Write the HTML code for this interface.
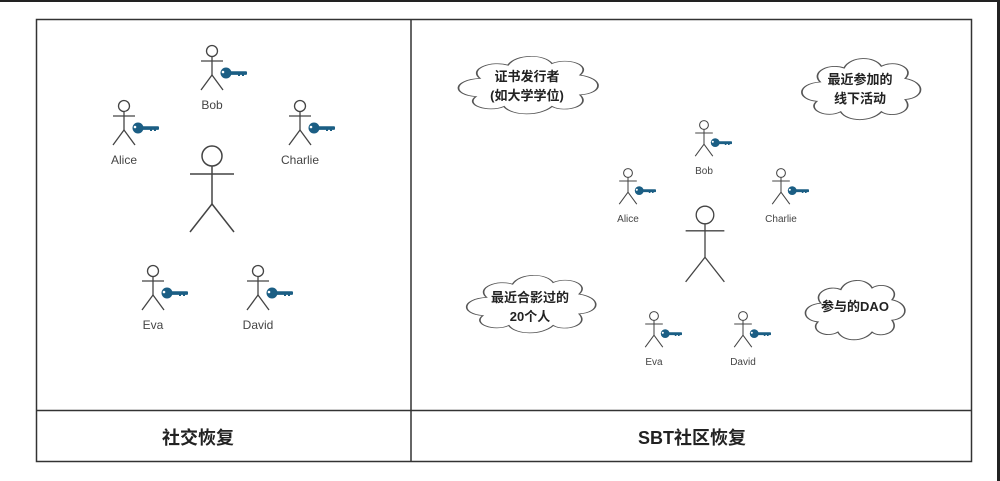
<!DOCTYPE html>
<html><head><meta charset="utf-8"><style>
html,body{margin:0;padding:0;background:#fff;}
svg{display:block;}
text{font-family:"Liberation Sans","Noto Sans CJK SC",sans-serif;}
</style></head><body>
<svg width="1000" height="481" viewBox="0 0 1000 481" xmlns="http://www.w3.org/2000/svg">
<defs>
<g id="fig">
  <g stroke="#444" stroke-width="1.3" fill="none">
    <circle cx="0" cy="0" r="5.5" fill="#fff"/>
    <line x1="0" y1="5.5" x2="0" y2="24"/>
    <line x1="-11" y1="10" x2="11" y2="10"/>
    <line x1="0" y1="24" x2="-11" y2="39"/>
    <line x1="0" y1="24" x2="11" y2="39"/>
  </g>
  <g fill="#1b5e84">
    <circle cx="14" cy="22" r="5.5"/>
    <rect x="15" y="20.3" width="20" height="3.6" rx="1"/>
    <rect x="26" y="23" width="2" height="2"/>
    <rect x="30" y="23" width="2" height="2"/>
  </g>
  <circle cx="11" cy="21" r="1.3" fill="#fff"/>
</g>
<g id="big" stroke="#444" stroke-width="1.5" fill="none">
  <circle cx="0" cy="0" r="10"/>
  <line x1="0" y1="10" x2="0" y2="48"/>
  <line x1="-22" y1="18" x2="22" y2="18"/>
  <line x1="0" y1="48" x2="-22" y2="76"/>
  <line x1="0" y1="48" x2="22" y2="76"/>
</g>
<path id="cloud" d="M-0.6,-0.2 C-0.75,-0.5 -0.45,-0.75 -0.25,-0.6 C-0.15,-0.95 0.2,-0.95 0.3,-0.65 C0.5,-0.85 0.8,-0.6 0.65,-0.3 C0.95,-0.2 0.95,0.25 0.65,0.3 C0.8,0.65 0.45,0.85 0.3,0.65 C0.15,0.95 -0.2,0.95 -0.3,0.65 C-0.5,0.85 -0.8,0.6 -0.65,0.35 C-0.95,0.3 -0.95,-0.15 -0.6,-0.2 Z"/>
</defs>
<rect x="0" y="0" width="1000" height="2" fill="#222"/>
<rect x="997" y="0" width="3" height="481" fill="#222"/>
<g stroke="#333" stroke-width="1.5" fill="none">
  <rect x="36.5" y="19.5" width="935" height="442"/>
  <line x1="411" y1="19.5" x2="411" y2="461.5"/>
  <line x1="36.5" y1="410.5" x2="971.5" y2="410.5"/>
</g>
<!-- left -->
<use href="#fig" transform="translate(212,51)"/>
<use href="#fig" transform="translate(124,106)"/>
<use href="#fig" transform="translate(300,106)"/>
<use href="#fig" transform="translate(153,271)"/>
<use href="#fig" transform="translate(258,271)"/>
<use href="#big" transform="translate(212,156)"/>
<g font-size="12" fill="#444" text-anchor="middle">
<text x="212" y="109">Bob</text>
<text x="124" y="164">Alice</text>
<text x="300" y="164">Charlie</text>
<text x="153" y="329">Eva</text>
<text x="258" y="329">David</text>
</g>
<!-- right -->
<use href="#fig" transform="translate(704,125) scale(0.8)"/>
<use href="#fig" transform="translate(628,173) scale(0.8)"/>
<use href="#fig" transform="translate(781,173) scale(0.8)"/>
<use href="#fig" transform="translate(654,316) scale(0.8)"/>
<use href="#fig" transform="translate(743,316) scale(0.8)"/>
<use href="#big" transform="translate(705,215) scale(0.88)"/>
<g font-size="10" fill="#444" text-anchor="middle">
<text x="704" y="174">Bob</text>
<text x="628" y="222">Alice</text>
<text x="781" y="222">Charlie</text>
<text x="654" y="365">Eva</text>
<text x="743" y="365">David</text>
</g>
<!-- clouds -->
<g fill="#fff" stroke="#555">
<use href="#cloud" transform="translate(528,85) scale(80,33)" stroke-width="0.022"/>
<use href="#cloud" transform="translate(861,89) scale(68,35)" stroke-width="0.025"/>
<use href="#cloud" transform="translate(531,304) scale(74,33)" stroke-width="0.022"/>
<use href="#cloud" transform="translate(855,310) scale(57,34)" stroke-width="0.028"/>
</g>
<g font-size="13" font-weight="bold" fill="#222" text-anchor="middle">
<text x="527" y="81">证书发行者</text>
<text x="527" y="100">(如大学学位)</text>
<text x="860" y="84">最近参加的</text>
<text x="860" y="103">线下活动</text>
<text x="530" y="302">最近合影过的</text>
<text x="530" y="321">20个人</text>
<text x="855" y="311">参与的DAO</text>
</g>
<g font-size="18" font-weight="bold" fill="#222" text-anchor="middle">
<text x="198" y="444">社交恢复</text>
<text x="692" y="444">SBT社区恢复</text>
</g>
</svg>
</body></html>
